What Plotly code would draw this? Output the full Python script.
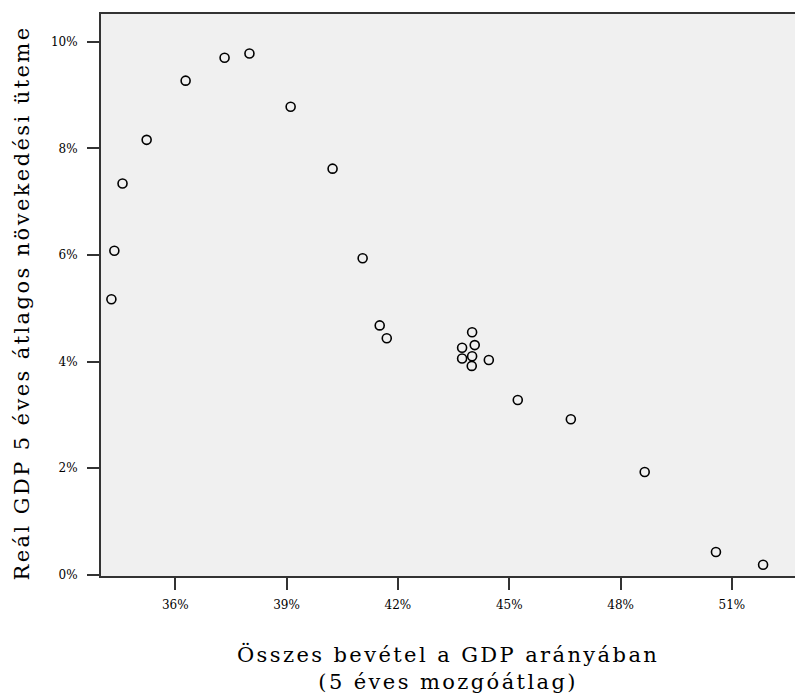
import plotly.graph_objects as go

# Total revenue as share of GDP (5-year moving average), %
revenue_share = [34.28, 34.36, 34.58, 35.23, 36.28, 37.33, 38.00, 39.11, 40.24,
                 41.05, 41.51, 41.70, 44.00, 43.73, 44.07, 43.73, 44.00, 43.99,
                 44.45, 45.23, 46.66, 48.65, 50.57, 51.84]
# Real GDP 5-year average growth rate, %
gdp_growth = [5.17, 6.08, 7.34, 8.16, 9.27, 9.70, 9.78, 8.78, 7.62,
              5.94, 4.68, 4.44, 4.55, 4.26, 4.31, 4.06, 4.10, 3.92,
              4.03, 3.28, 2.92, 1.93, 0.43, 0.19]

x_ticks = [36, 39, 42, 45, 48, 51]
y_ticks = [0, 2, 4, 6, 8, 10]

title_font = dict(family="DejaVu Serif", size=21, color="black")
tick_font = dict(family="DejaVu Serif", size=12, color="black")

fig = go.Figure(go.Scatter(
    x=revenue_share, y=gdp_growth, mode="markers",
    marker=dict(symbol="circle-open", size=9, color="black",
                line=dict(width=1.6, color="black")),
    showlegend=False,
))

fig.update_layout(
    width=795, height=698,
    margin=dict(l=101, r=0, t=14, b=122),
    paper_bgcolor="white", plot_bgcolor="#F0F0F0",
    xaxis=dict(range=[34.0, 52.7], tickvals=x_ticks,
               ticktext=[f"{v}%" for v in x_ticks],
               showgrid=False, zeroline=False, showline=True, mirror=True,
               linecolor="#333", linewidth=2, ticks="outside", ticklen=12,
               tickwidth=1.5, tickcolor="#333", tickfont=tick_font,
               ticklabelstandoff=5),
    yaxis=dict(range=[-0.02, 10.52], tickvals=y_ticks,
               ticktext=[f"{v}%" for v in y_ticks],
               showgrid=False, zeroline=False, showline=True,
               linecolor="#333", linewidth=2, ticks="outside", ticklen=12,
               tickwidth=1.5, tickcolor="#333", tickfont=tick_font,
               ticklabelstandoff=7),
    annotations=[
        dict(text="Összes bevétel a GDP arányában<br>(5 éves mozgóátlag)",
             xref="paper", yref="paper", x=0.5, y=0, yshift=-64,
             xanchor="center", yanchor="top", showarrow=False,
             font=title_font),
        dict(text="Reál GDP 5 éves átlagos növekedési üteme",
             xref="paper", yref="paper", x=0, y=0.485, xshift=-79,
             xanchor="center", yanchor="middle", textangle=-90,
             showarrow=False, font=title_font),
    ],
)

# Widen the spacing of the axis-title letters
spacing_js = """
document.querySelectorAll('.annotation-text').forEach(function (t) {
  t.style.letterSpacing = '2.4px';
});
"""

fig.write_html("out.html", post_script=spacing_js)
